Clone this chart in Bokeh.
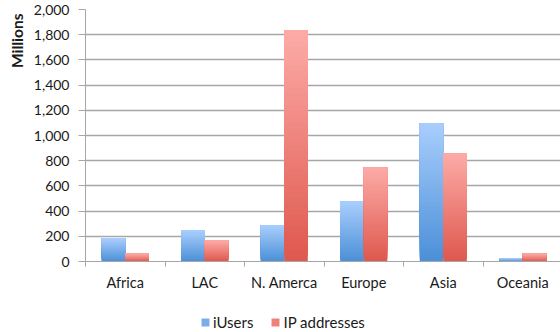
from bokeh.plotting import figure
from bokeh.layouts import column
from bokeh.models import (Range1d, FixedTicker, NumeralTickFormatter, ColumnDataSource,
                          Legend, LegendItem, Title)
from bokeh.embed import file_html
from bokeh.resources import INLINE

# Regional totals, in millions
regions = ["Africa", "LAC", "N. Amerca", "Europe", "Asia", "Oceania"]
iusers = [183, 246, 286, 477, 1097, 28]
ip_addresses = [62, 167, 1835, 747, 859, 62]
y_ticks = [0, 200, 400, 600, 800, 1000, 1200, 1400, 1600, 1800, 2000]
series_names = ["iUsers", "IP addresses"]

FONT = "Lato"
GRID = "#a6a6a6"
TEXT = "#1a1a1a"

# gradient end colours (bottom, top) for each series
BLUE = ((0x4b, 0x8f, 0xd7), (0xa9, 0xce, 0xfd))
RED = ((0xde, 0x58, 0x4d), (0xfd, 0xab, 0xa8))

BAR_W = 0.296
N_SLICES = 40


def hexcol(c):
    return "#%02x%02x%02x" % tuple(int(round(v)) for v in c)


def mix(colors, t):
    lo, hi = colors
    return hexcol([a + (b - a) * t for a, b in zip(lo, hi)])


def gradient_source(values, offset, colors):
    """Shade every bar bottom->top: slice k runs from its step up to the bar top,
    so later (lighter) slices paint over earlier ones without seams."""
    data = dict(left=[], right=[], bottom=[], top=[], color=[])
    for k in range(N_SLICES):
        col = mix(colors, (k + 0.5) / N_SLICES)
        for i, v in enumerate(values):
            center = i + 0.5
            data["left"].append(center + offset)
            data["right"].append(center + offset + BAR_W)
            data["bottom"].append(v * k / N_SLICES)
            data["top"].append(v)
            data["color"].append(col)
    return ColumnDataSource(data)


p = figure(width=560, height=305, output_backend="svg", toolbar_location=None,
           x_range=Range1d(0, 475 / 79.5), y_range=Range1d(0, 2000),
           min_border_left=85, min_border_right=0, min_border_top=9,
           min_border_bottom=44)
p.outline_line_color = None
p.background_fill_color = "white"
p.border_fill_color = "white"

# horizontal gridlines
p.xgrid.visible = False
p.ygrid.grid_line_color = GRID
p.ygrid.grid_line_width = 1.3
p.ygrid.ticker = FixedTicker(ticks=y_ticks)

p.quad(left="left", right="right", bottom="bottom", top="top",
       source=gradient_source(iusers, -BAR_W, BLUE), fill_color="color", line_color=None)
p.quad(left="left", right="right", bottom="bottom", top="top",
       source=gradient_source(ip_addresses, 0.0, RED), fill_color="color", line_color=None)

# y axis
yax = p.yaxis[0]
yax.ticker = FixedTicker(ticks=y_ticks)
yax.formatter = NumeralTickFormatter(format="0,0")
yax.axis_line_color = GRID
yax.major_tick_line_color = GRID
yax.major_tick_out = 7
yax.major_tick_in = 0
yax.minor_tick_line_color = None
yax.major_label_text_font = FONT
yax.major_label_text_font_size = "14px"
yax.major_label_text_color = TEXT
yax.major_label_standoff = 9

# x axis: labels centred on categories, ticks on category boundaries
xax = p.xaxis[0]
centers = [i + 0.5 for i in range(len(regions))]
xax.ticker = FixedTicker(ticks=centers, minor_ticks=list(range(len(regions) + 1)))
xax.major_label_overrides = {c: name for c, name in zip(centers, regions)}
xax.axis_line_color = GRID
xax.major_tick_line_color = None
xax.major_tick_out = 0
xax.major_tick_in = 0
xax.minor_tick_line_color = GRID
xax.minor_tick_out = 5
xax.minor_tick_in = 0
xax.major_label_text_font = FONT
xax.major_label_text_font_size = "14.5px"
xax.major_label_text_color = TEXT
xax.major_label_standoff = 7

# unit caption at the top of the value axis
p.add_layout(Title(text="Millions", align="right", text_font=FONT,
                   text_font_size="15.5px", text_font_style="bold",
                   text_color=TEXT, standoff=9, offset=4), "left")

# legend strip underneath the chart
leg = figure(width=560, height=27, output_backend="svg", toolbar_location=None,
             x_range=Range1d(0, 1), y_range=Range1d(0, 1),
             min_border=0, x_axis_type=None, y_axis_type=None)
leg.outline_line_color = None
leg.grid.visible = False
# zero-area boxes: they only carry the key colours for the legend
keys = [leg.quad(left=[0], right=[0], bottom=[0], top=[0], fill_color=mix(c, 0.5),
                 line_color=None) for c in (BLUE, RED)]
legend = Legend(items=[LegendItem(label=n, renderers=[r]) for n, r in zip(series_names, keys)],
                location=(115, 1), orientation="horizontal",
                glyph_width=10, glyph_height=10, label_standoff=3, spacing=17,
                padding=0, margin=0, border_line_color=None,
                background_fill_alpha=0, label_text_font=FONT,
                label_text_font_size="15px", label_text_color=TEXT)
leg.add_layout(legend, "center")

open("out.html", "w").write(file_html(column(p, leg, spacing=0), INLINE))
